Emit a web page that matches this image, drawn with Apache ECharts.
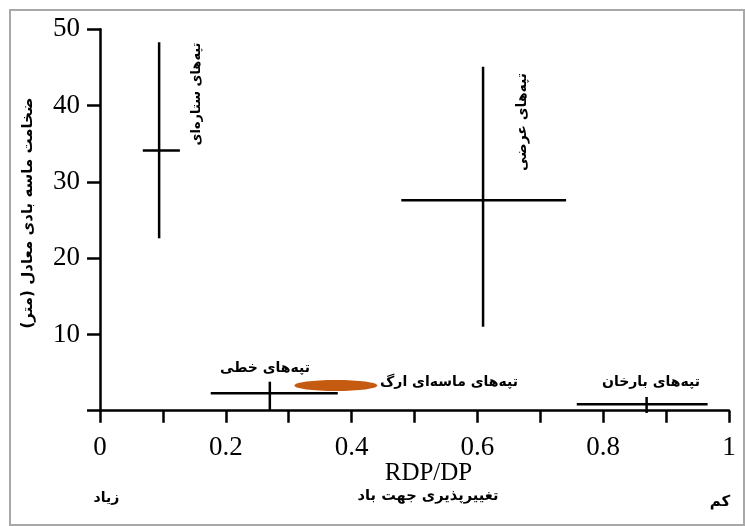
<!DOCTYPE html>
<html>
<head>
<meta charset="utf-8">
<script src="https://cdn.jsdelivr.net/npm/echarts@6/dist/echarts.min.js"></script>
<style>
html,body{margin:0;padding:0;background:#fff;}
#chart{width:745px;height:526px;}
</style>
</head>
<body>
<div id="chart"></div>
<script>
// ---- data ----
const categories = ['تپه‌های ستاره‌ای', 'تپه‌های عرضی', 'تپه‌های خطی', 'تپه‌های بارخان'];
const xCenter = [0.094, 0.609, 0.270, 0.869];
const xLow    = [0.068, 0.479, 0.176, 0.758];
const xHigh   = [0.127, 0.741, 0.378, 0.966];
const yCenter = [34.1, 27.6, 2.3, 0.84];
const yLow    = [22.6, 11.0, 0.0, -0.3];
const yHigh   = [48.3, 45.1, 3.8, 1.8];

const ergName = 'تپه‌های ماسه‌ای ارگ';
const ergX = [0.375];
const ergY = [3.3];
const ergWidth = [0.132];
const ergHeight = [1.44];

const xTickLabels = ['0', '0.2', '0.4', '0.6', '0.8', '1'];
const yTickLabels = ['10', '20', '30', '40', '50'];
const xAxisTitle = 'RDP/DP';
const xAxisSubtitle = 'تغییرپذیری جهت باد';
const xLeftNote = 'زیاد';
const xRightNote = 'کم';
const yAxisTitle = 'ضخامت ماسه بادی معادل (متر)';

const RLM = '\u200F';
const serif = '"Liberation Serif", "Times New Roman", serif';
const arabicFont = '"DejaVu Sans", sans-serif';

const crossData = categories.map((c, i) => [xCenter[i], yCenter[i], xLow[i], xHigh[i], yLow[i], yHigh[i]]);
const ergData = ergX.map((x, i) => [x, ergY[i], ergWidth[i], ergHeight[i]]);

const chart = echarts.init(document.getElementById('chart'), null, {renderer: 'canvas'});

function persianText(text, x, y, size, rot) {
  return {
    type: 'text', x: x, y: y, rotation: rot || 0,
    style: {
      text: RLM + text + RLM, fill: '#000',
      font: 'bold ' + size + 'px ' + arabicFont,
      align: 'center', verticalAlign: 'middle'
    }
  };
}

const option = {
  animation: false,
  backgroundColor: '#fff',
  grid: {left: 100, right: 16, top: 29.3, bottom: 115.3, outerBoundsMode: 'none', containLabel: false},
  xAxis: {
    type: 'value', min: 0, max: 1, interval: 0.1,
    axisLine: {show: true, lineStyle: {color: '#000', width: 2.5}},
    axisTick: {show: true, length: 12, lineStyle: {color: '#000', width: 2.5}},
    splitLine: {show: false},
    axisLabel: {
      margin: 24, color: '#000', fontFamily: serif, fontSize: 27,
      formatter: function (v) {
        const k = Math.round(v * 10);
        return k % 2 === 0 ? xTickLabels[k / 2] : '';
      }
    }
  },
  yAxis: {
    type: 'value', min: 0, max: 50, interval: 10,
    axisLine: {show: true, lineStyle: {color: '#000', width: 2.5}},
    axisTick: {show: true, length: 13, lineStyle: {color: '#000', width: 2.5}},
    splitLine: {show: false},
    axisLabel: {
      margin: 20, color: '#000', fontFamily: serif, fontSize: 27,
      formatter: function (v) {
        const k = Math.round(v / 10);
        return k === 0 ? '' : yTickLabels[k - 1];
      }
    }
  },
  series: [
    {
      type: 'custom',
      name: 'crosses',
      data: crossData,
      clip: false,
      renderItem: function (params, api) {
        const c = api.coord([api.value(0), api.value(1)]);
        const l = api.coord([api.value(2), api.value(1)]);
        const r = api.coord([api.value(3), api.value(1)]);
        const b = api.coord([api.value(0), api.value(4)]);
        const t = api.coord([api.value(0), api.value(5)]);
        const st = {stroke: '#000', lineWidth: 2.5};
        return {
          type: 'group',
          children: [
            {type: 'line', shape: {x1: l[0], y1: c[1], x2: r[0], y2: c[1]}, style: st},
            {type: 'line', shape: {x1: c[0], y1: b[1], x2: c[0], y2: t[1]}, style: st}
          ]
        };
      }
    },
    {
      type: 'custom',
      name: ergName,
      data: ergData,
      clip: false,
      z: 3,
      renderItem: function (params, api) {
        const c = api.coord([api.value(0), api.value(1)]);
        const s = api.size([api.value(2), api.value(3)]);
        return {
          type: 'ellipse',
          shape: {cx: c[0], cy: c[1], rx: s[0] / 2, ry: s[1] / 2},
          style: {fill: '#C55A11'}
        };
      }
    }
  ],
  graphic: [
    {type: 'rect', shape: {x: 10, y: 10, width: 734, height: 515}, style: {fill: 'none', stroke: '#a8a8a8', lineWidth: 2}, silent: true},
    {type: 'text', x: 428.5, y: 473, style: {text: xAxisTitle, fill: '#000', font: '25px ' + serif, align: 'center', verticalAlign: 'middle'}},
    persianText(xAxisSubtitle, 428, 496, 14.6),
    persianText(xLeftNote, 106.5, 498, 14),
    persianText(xRightNote, 720, 502, 15),
    persianText(yAxisTitle, 28, 213, 15, Math.PI / 2),
    persianText(categories[0], 197, 94, 13, Math.PI / 2),
    persianText(categories[1], 522, 122, 14, Math.PI / 2),
    persianText(categories[2], 265, 368, 14),
    persianText(ergName, 449, 382, 14),
    persianText(categories[3], 651, 382, 14)
  ]
};
chart.setOption(option);
</script>
</body>
</html>
